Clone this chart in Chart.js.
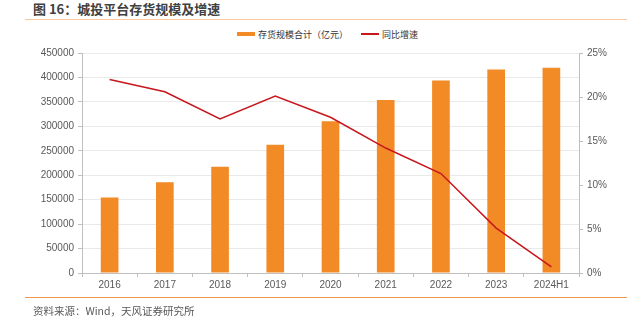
<!DOCTYPE html>
<html>
<head>
<meta charset="utf-8">
<script src="https://cdn.jsdelivr.net/npm/chart.js@4/dist/chart.umd.min.js"></script>
<style>
    body { margin: 0; background: #fff; font-family: "Noto Sans CJK SC", "Liberation Sans", sans-serif; }
    #wrap { position: relative; width: 627px; height: 328px; overflow: hidden; }
    #titulo { position: absolute; left: 33px; top: 0px; font-size: 13px; font-weight: bold; color: #404040; line-height: 18px; }
    #linha-topo { position: absolute; left: 25px; right: 0; top: 19px; height: 1px; background: #F9C79A; }
    #linha-base { position: absolute; left: 25px; right: 0; top: 297px; height: 1px; background: #EE9A4D; }
    #fonte { position: absolute; left: 33px; top: 303px; font-size: 10.5px; color: #595959; line-height: 16px; }
    #legenda { position: absolute; left: 237px; top: 27px; font-size: 9px; color: #333; display: flex; align-items: center; height: 14px; }
    #legenda .item { display: flex; align-items: center; margin-right: 13px; }
    #legenda .marca { width: 18px; margin-right: 3px; }
    canvas { position: absolute; left: 0; top: 0; }
</style>
</head>
<body>
<div id="wrap">
    <div id="titulo">图 16：城投平台存货规模及增速</div>
    <div id="linha-topo"></div>
    <div id="legenda"></div>
    <canvas id="grafico" width="627" height="328"></canvas>
    <div id="linha-base"></div>
    <div id="fonte">资料来源：Wind，天风证券研究所</div>
</div>
<script>
// Dados
const anos = ['2016', '2017', '2018', '2019', '2020', '2021', '2022', '2023', '2024H1'];
const estoque = [154500, 185500, 217500, 262500, 310500, 354000, 393500, 416500, 420000];
const crescimento = [22.0, 20.6, 17.5, 20.1, 17.7, 14.2, 11.3, 5.1, 0.7];
const ticksEsquerda = [0, 50000, 100000, 150000, 200000, 250000, 300000, 350000, 400000, 450000];
const ticksDireita = [0, 5, 10, 15, 20, 25];

const corBarra = '#F28A26';
const corLinha = '#C8161D';
const corTexto = '#595959';
const corEixo = '#BFBFBF';
const corGrade = '#E9E9E9';

function montarGrafico() {
    const ctx = document.getElementById('grafico').getContext('2d');
    const fonteEixo = { family: '"Liberation Sans", Arial, sans-serif', size: 10 };

    const datasets = [
        {
            type: 'bar',
            label: '存货规模合计（亿元）',
            data: estoque,
            backgroundColor: corBarra,
            borderWidth: 0,
            barPercentage: 0.32,
            categoryPercentage: 1,
            yAxisID: 'y',
            order: 2
        },
        {
            type: 'line',
            label: '同比增速',
            data: crescimento,
            borderColor: corLinha,
            backgroundColor: corLinha,
            borderWidth: 1.5,
            pointRadius: 0,
            tension: 0,
            fill: false,
            yAxisID: 'y1',
            order: 1
        }
    ];

    // legenda em HTML, a partir dos datasets
    const leg = document.getElementById('legenda');
    datasets.forEach(ds => {
        const item = document.createElement('div');
        item.className = 'item';
        const marca = document.createElement('span');
        marca.className = 'marca';
        marca.style.height = ds.type === 'bar' ? '4px' : '1.5px';
        marca.style.background = ds.type === 'bar' ? corBarra : corLinha;
        const txt = document.createElement('span');
        txt.textContent = ds.label;
        item.appendChild(marca);
        item.appendChild(txt);
        leg.appendChild(item);
    });

    new Chart(ctx, {
        data: { labels: anos, datasets: datasets },
        options: {
            responsive: false,
            animation: false,
            layout: { padding: { left: 0, right: 0, top: 53, bottom: 0 } },
            plugins: { legend: { display: false }, tooltip: { enabled: false } },
            scales: {
                x: {
                    offset: true,
                    grid: { offset: true, drawOnChartArea: false, tickLength: 4, color: corEixo },
                    border: { color: corEixo },
                    ticks: { color: corTexto, font: fonteEixo, padding: 2, maxRotation: 0 },
                    afterFit: s => { s.height = 55; }
                },
                y: {
                    position: 'left',
                    min: 0,
                    max: 450000,
                    afterBuildTicks: s => { s.ticks = ticksEsquerda.map(v => ({ value: v })); },
                    grid: { color: corGrade, tickLength: 4, tickColor: corEixo },
                    border: { color: corEixo },
                    ticks: { color: corTexto, font: fonteEixo, padding: 4, callback: v => String(v) },
                    afterFit: s => { s.width = 82; }
                },
                y1: {
                    position: 'right',
                    min: 0,
                    max: 25,
                    afterBuildTicks: s => { s.ticks = ticksDireita.map(v => ({ value: v })); },
                    grid: { drawOnChartArea: false, tickLength: 4, color: corEixo },
                    border: { color: corEixo },
                    ticks: { color: corTexto, font: fonteEixo, padding: 4, callback: v => v + '%' },
                    afterFit: s => { s.width = 48; }
                }
            }
        }
    });
}

document.addEventListener('DOMContentLoaded', montarGrafico);
</script>
</body>
</html>
